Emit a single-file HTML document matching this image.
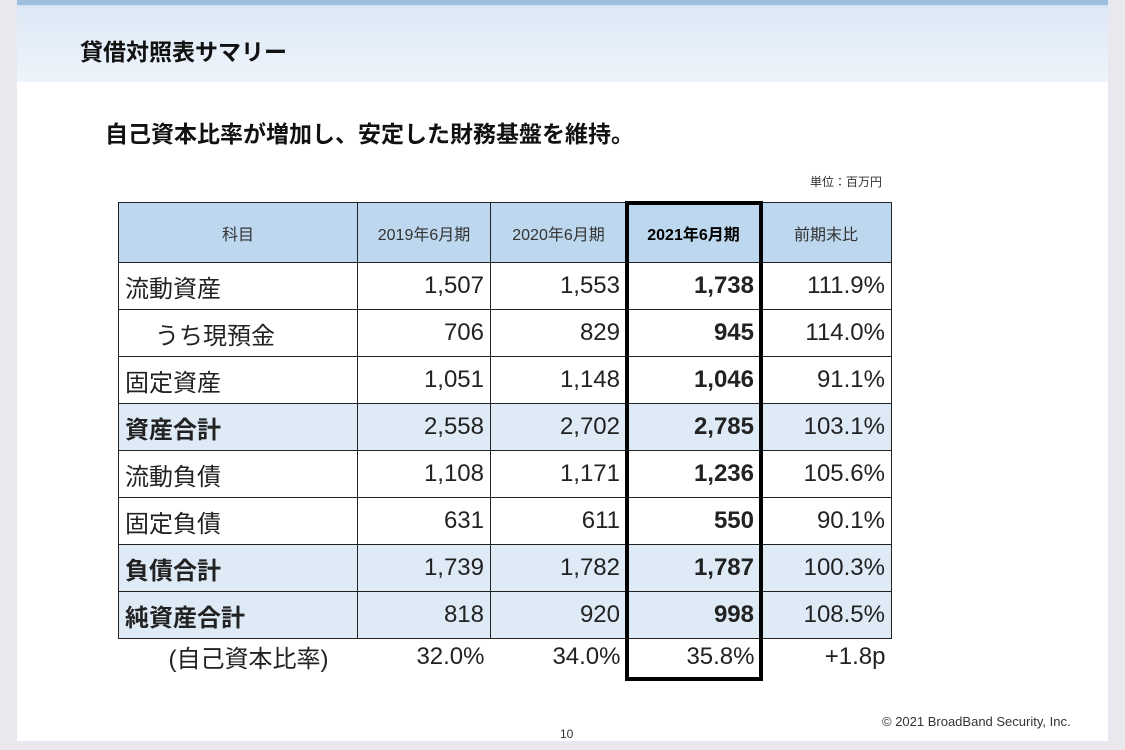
<!DOCTYPE html>
<html><head><meta charset="utf-8"><style>
body{margin:0;width:1125px;height:750px;background:#e9e8ee;position:relative;overflow:hidden;font-family:"Liberation Sans","Noto Sans CJK JP",sans-serif;}
.slide{position:absolute;left:17px;top:0;width:1091px;height:741px;background:#fff;}
.hdr{position:absolute;left:0;top:0;width:1091px;height:82px;background:linear-gradient(180deg,#c5d9ee 0,#dde9f6 10%,#e6eff9 60%,#eef4fb 100%);}
.hdr:before{content:"";position:absolute;left:0;top:0;width:100%;height:5px;background:#9fbfe0;}
.t{position:absolute;white-space:nowrap;color:#111;}
table{position:absolute;left:118px;top:202px;border-collapse:collapse;font-size:24px;}
td{border:1.5px solid #222;height:46px;padding:0 6px;text-align:right;color:#222;}
td:first-child{text-align:left;}
tr.h td{height:59px;background:#bdd7ee;text-align:center;font-size:16px;color:#333;}
tr.s td{background:#deebf7;}
tr.s td:first-child{font-weight:bold;}
td.b{font-weight:bold;}
tr.last td{border:none;height:34px;}
.box{position:absolute;left:625px;top:201px;width:130px;height:472px;border:4px solid #000;}
</style></head><body>
<div class="slide">
<div class="hdr"></div>
<div class="t" style="left:63px;top:33px;font-size:23px;font-weight:bold;">貸借対照表サマリー</div>
<div class="t" style="left:88px;top:115px;font-size:23px;font-weight:bold;">自己資本比率が増加し、安定した財務基盤を維持。</div>
<div class="t" style="left:793px;top:173px;font-size:12px;color:#333;">単位：百万円</div>
<div class="t" style="left:865px;top:714px;font-size:13px;color:#333;">© 2021 BroadBand Security, Inc.</div>
<div class="t" style="left:543px;top:727px;font-size:12px;color:#333;">10</div>
</div>
<table>
<colgroup><col style="width:239px"><col style="width:133px"><col style="width:136px"><col style="width:134px"><col style="width:131px"></colgroup>
<tr class="h"><td>科目</td><td>2019年6月期</td><td>2020年6月期</td><td style="font-weight:bold;color:#000">2021年6月期</td><td>前期末比</td></tr>
<tr><td>流動資産</td><td>1,507</td><td>1,553</td><td class="b">1,738</td><td>111.9%</td></tr>
<tr><td style="padding-left:36px">うち現預金</td><td>706</td><td>829</td><td class="b">945</td><td>114.0%</td></tr>
<tr><td>固定資産</td><td>1,051</td><td>1,148</td><td class="b">1,046</td><td>91.1%</td></tr>
<tr class="s"><td>資産合計</td><td>2,558</td><td>2,702</td><td class="b">2,785</td><td>103.1%</td></tr>
<tr><td>流動負債</td><td>1,108</td><td>1,171</td><td class="b">1,236</td><td>105.6%</td></tr>
<tr><td>固定負債</td><td>631</td><td>611</td><td class="b">550</td><td>90.1%</td></tr>
<tr class="s"><td>負債合計</td><td>1,739</td><td>1,782</td><td class="b">1,787</td><td>100.3%</td></tr>
<tr class="s"><td>純資産合計</td><td>818</td><td>920</td><td class="b">998</td><td>108.5%</td></tr>
<tr class="last"><td style="padding-left:50px">(自己資本比率)</td><td>32.0%</td><td>34.0%</td><td>35.8%</td><td>+1.8p</td></tr>
</table>
<div class="box"></div>
</body></html>
